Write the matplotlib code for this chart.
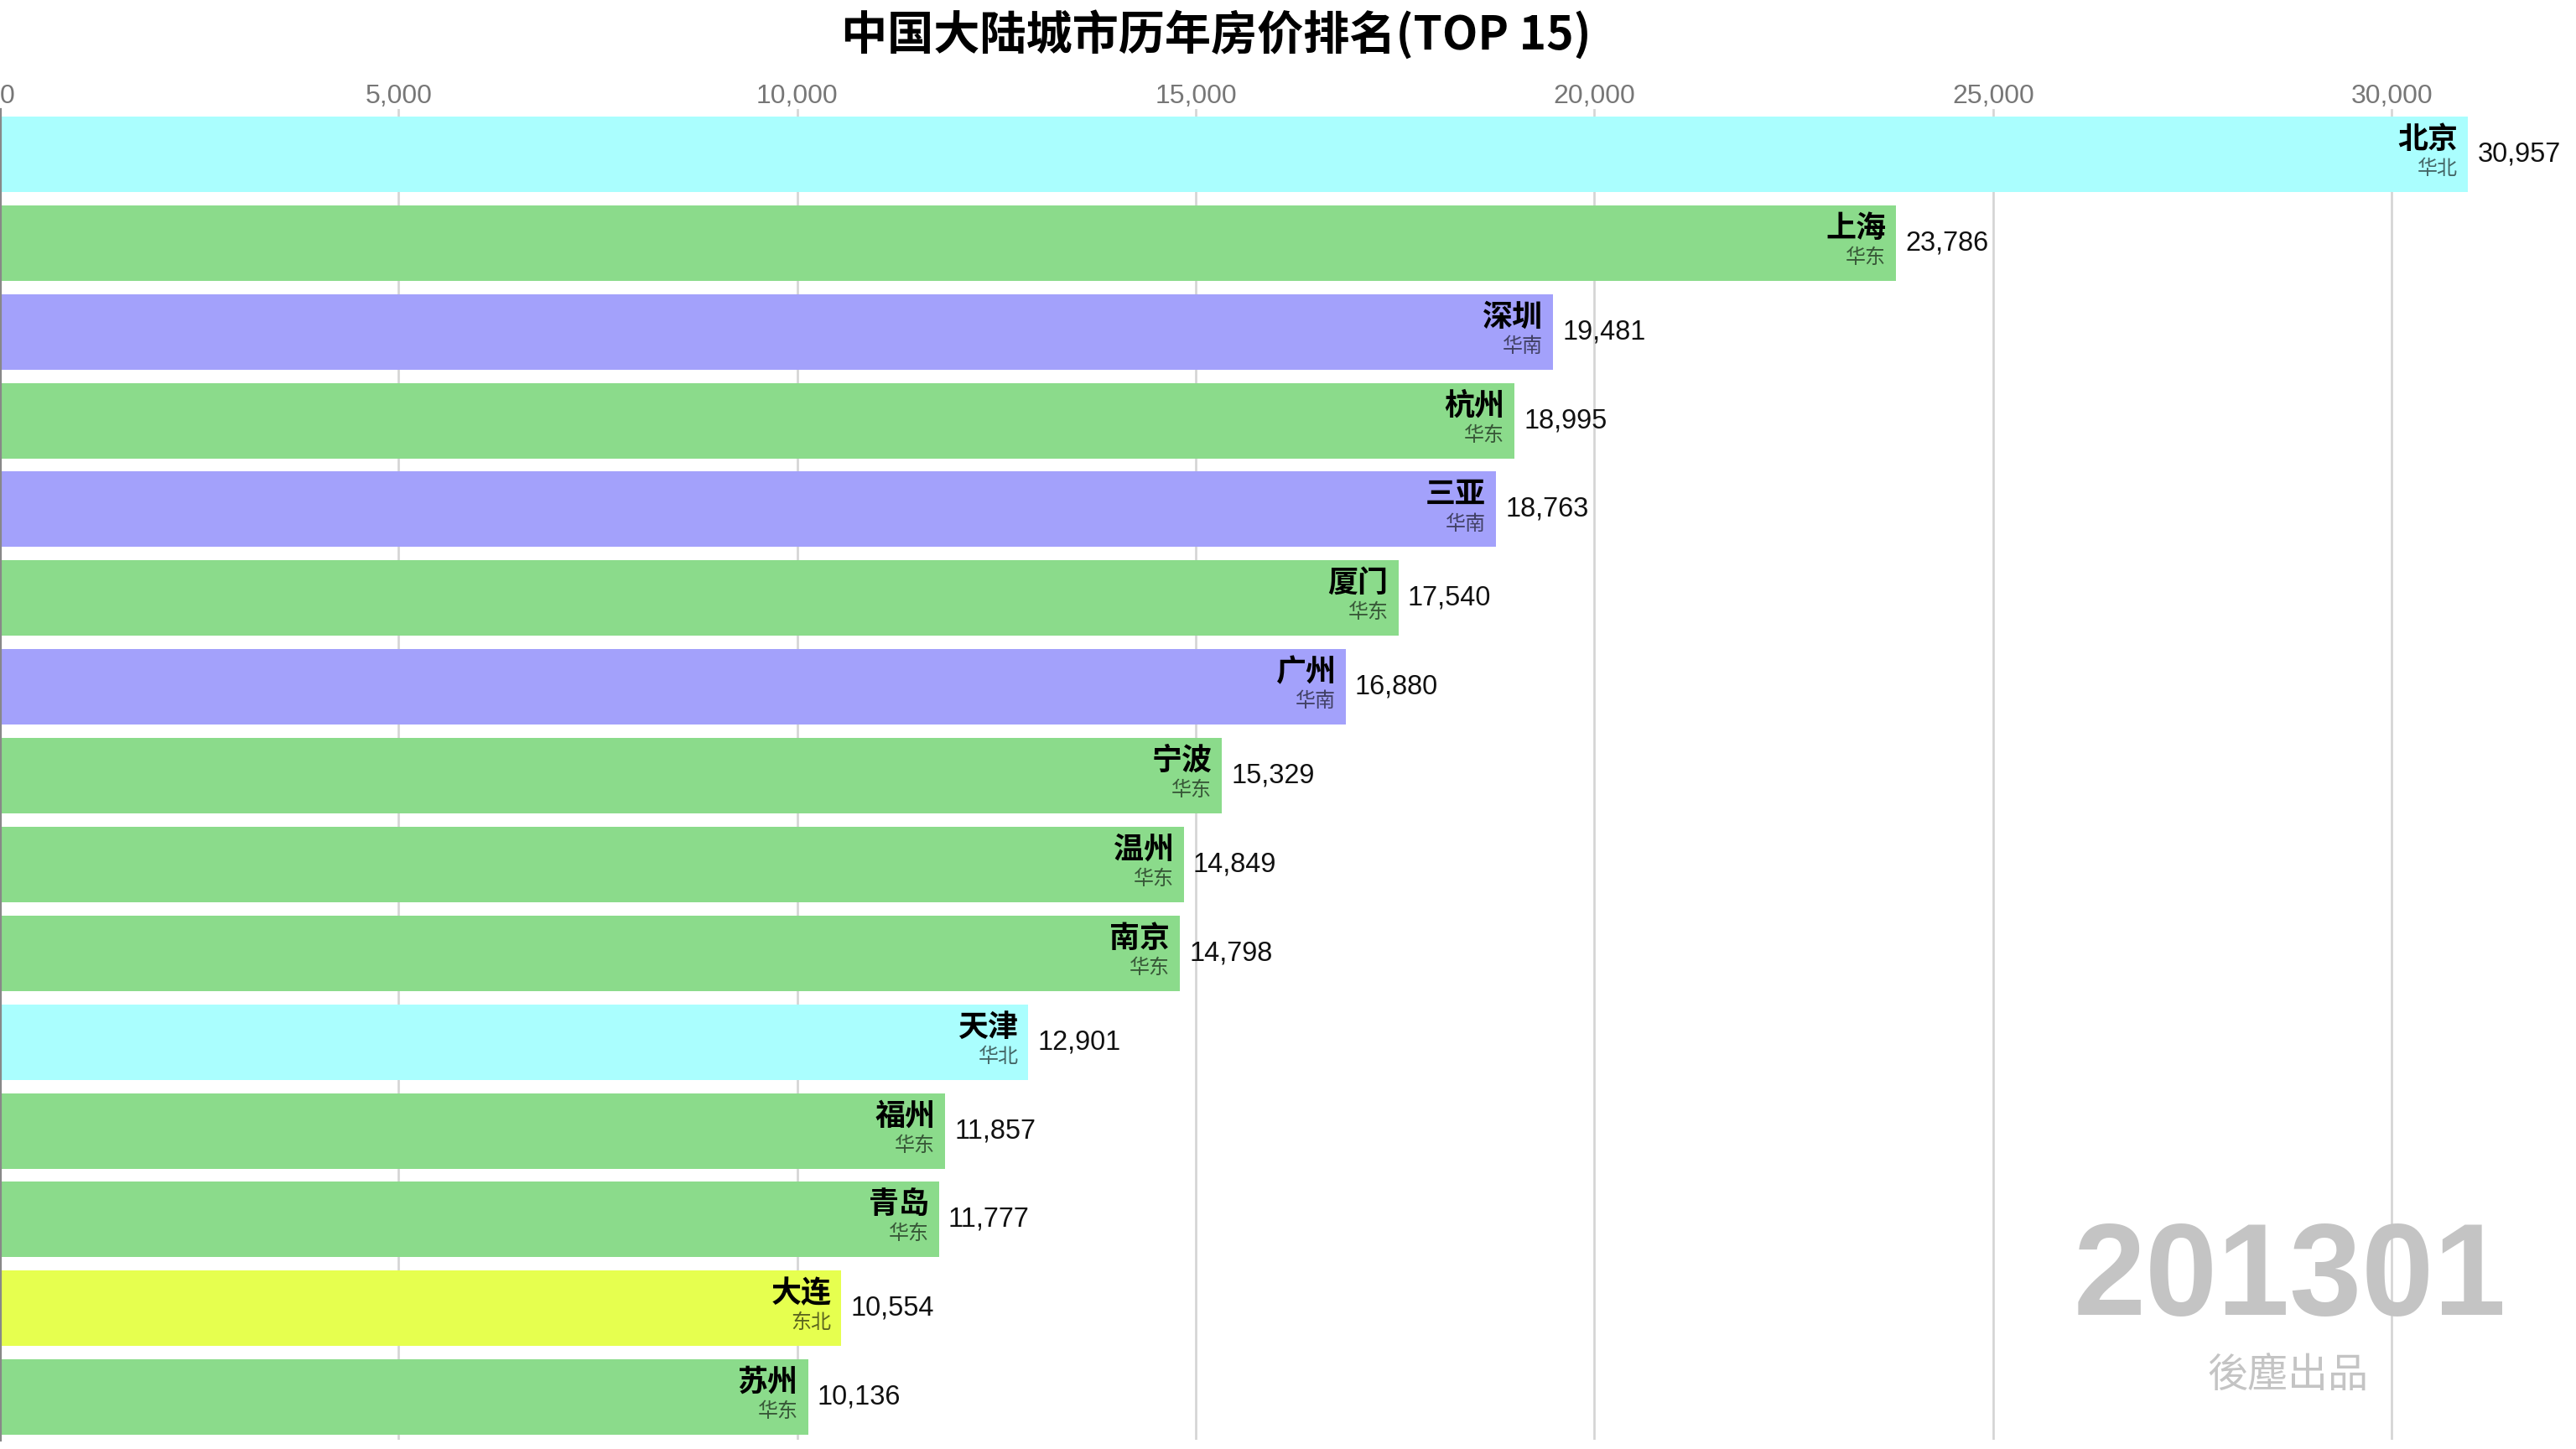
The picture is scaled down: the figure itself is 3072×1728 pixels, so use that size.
import matplotlib
matplotlib.use("Agg")
import matplotlib.pyplot as plt
from matplotlib.ticker import FuncFormatter

plt.rcParams['font.family'] = ['Liberation Sans', 'Noto Sans CJK SC', 'DejaVu Sans']

# data for 201301
cities = ['北京', '上海', '深圳', '杭州', '三亚', '厦门', '广州', '宁波',
          '温州', '南京', '天津', '福州', '青岛', '大连', '苏州']
regions = ['华北', '华东', '华南', '华东', '华南', '华东', '华南', '华东',
           '华东', '华东', '华北', '华东', '华东', '东北', '华东']
prices = [30957, 23786, 19481, 18995, 18763, 17540, 16880, 15329,
          14849, 14798, 12901, 11857, 11777, 10554, 10136]
region_colors = {'华北': '#aafefe', '华东': '#8bdb8b', '华南': '#a3a1fb', '东北': '#e6ff4f'}
period = '201301'

fig = plt.figure(figsize=(16, 9), dpi=192)
ax = fig.add_axes([0.0, 0.0064, 1.0, 0.9184])

ypos = list(range(len(cities)))
ax.barh(ypos, prices, height=0.85,
        color=[region_colors[r] for r in regions], zorder=2)

ax.set_xlim(0, 32313)
ax.set_ylim(len(cities) - 0.52, -0.51)

for y, c, r, v in zip(ypos, cities, regions, prices):
    ax.annotate(c, (v, y), xytext=(-4.5, 6.6), textcoords='offset points',
                ha='right', va='center', fontsize=13.5, fontweight='bold',
                family=['Noto Sans CJK SC'], color='black', zorder=3)
    ax.annotate(r, (v, y), xytext=(-4.5, -6.4), textcoords='offset points',
                ha='right', va='center', fontsize=9,
                family=['Noto Sans CJK SC'], color='black', alpha=0.6, zorder=3)
    ax.annotate(f'{v:,}', (v, y), xytext=(4.2, 0), textcoords='offset points',
                ha='left', va='center', fontsize=12.2, color='#111111', zorder=3)

ax.xaxis.set_ticks_position('top')
ax.set_xticks(range(0, 35000, 5000))
ax.xaxis.set_major_formatter(FuncFormatter(lambda x, p: f'{int(x):,}'))
ax.tick_params(axis='x', length=0, pad=0, labelsize=12, labelcolor='#777777')
ax.get_xticklabels()[0].set_horizontalalignment('left')
ax.set_yticks([])
ax.grid(axis='x', color='#d4d4d4', linewidth=1.0, zorder=0)
for s in ['top', 'right', 'bottom']:
    ax.spines[s].set_visible(False)
ax.spines['left'].set_color('#888888')
ax.spines['left'].set_linewidth(1.2)
ax.set_axisbelow(True)

fig.text(0.472, 0.976, '中国大陆城市历年房价排名(TOP 15)', ha='center', va='center',
         fontsize=20.7, fontweight='bold', family=['Noto Sans CJK SC', 'Liberation Sans'])
fig.text(0.889, 0.116, period, ha='center', va='center', fontsize=58,
         fontweight='bold', color='#c4c4c4')
fig.text(0.888, 0.050, '後塵出品', ha='center', va='center', fontsize=18,
         color='#c4c4c4', family=['Noto Sans CJK SC'])

fig.savefig('out.png', dpi=192, facecolor='white')
